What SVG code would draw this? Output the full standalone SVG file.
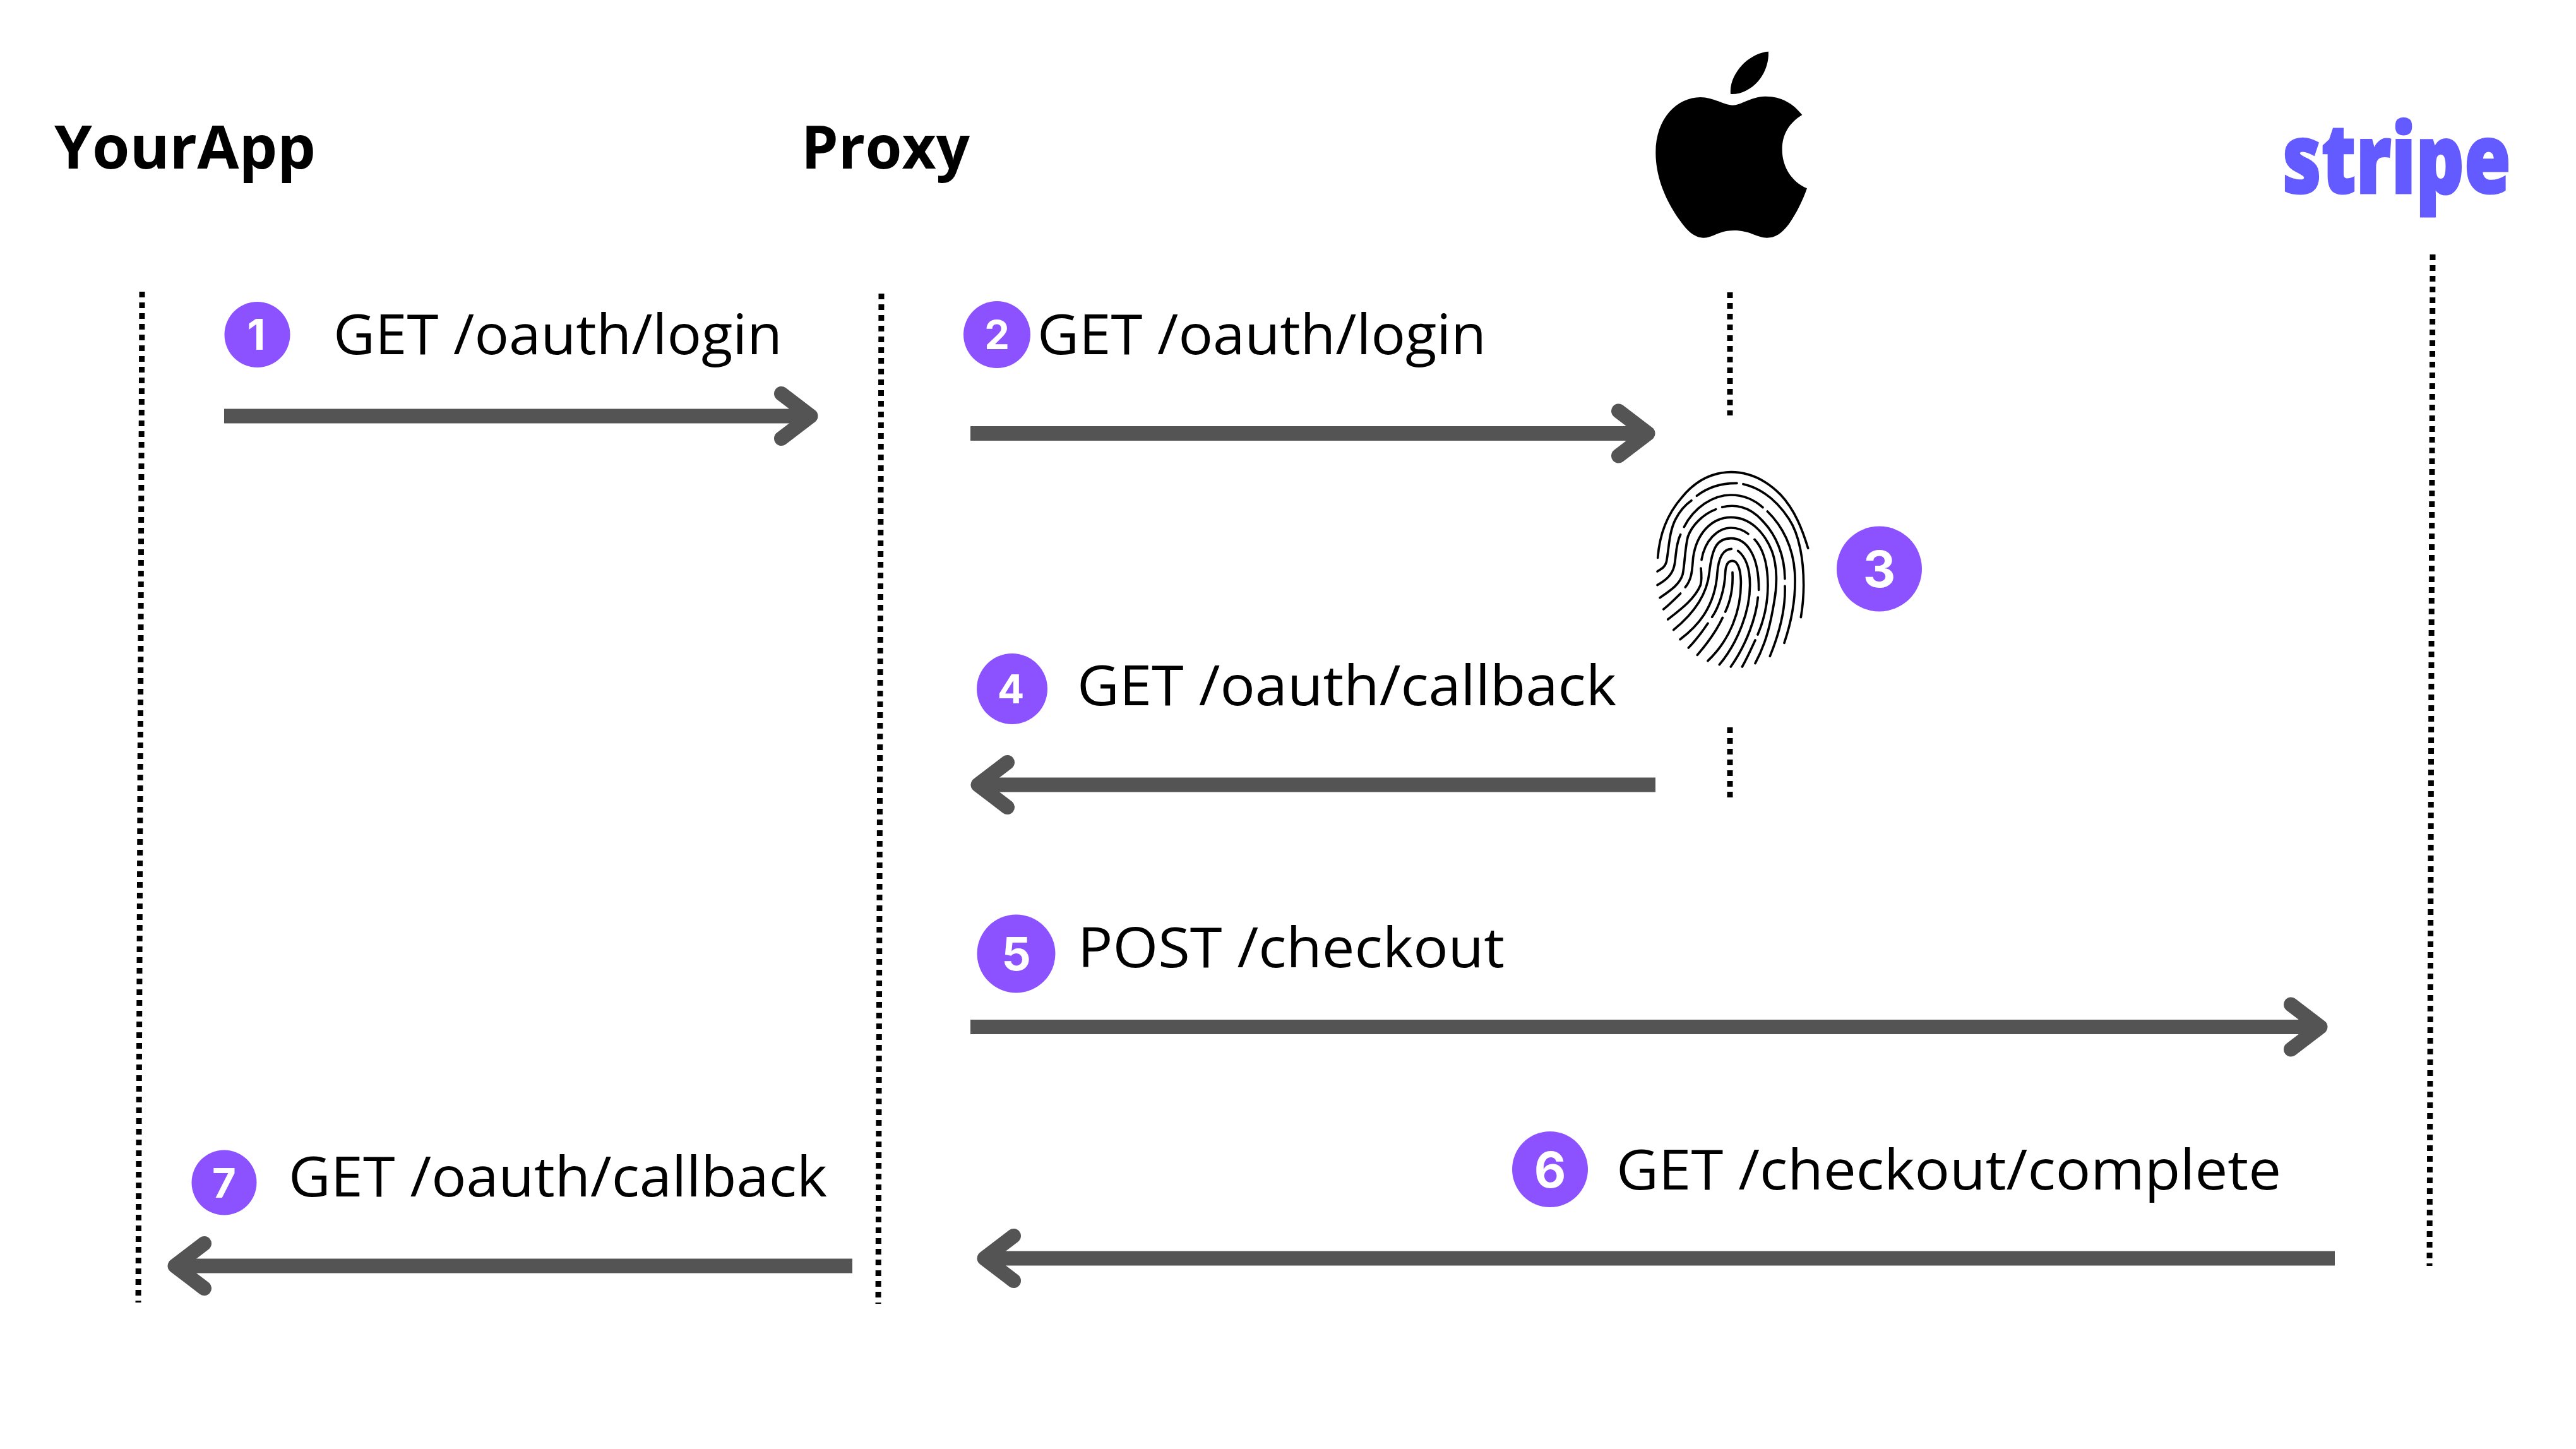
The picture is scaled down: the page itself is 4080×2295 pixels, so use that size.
<svg xmlns="http://www.w3.org/2000/svg" width="4080" height="2295" viewBox="0 0 4080 2295">
<style>
.title{font-family:"Open Sans","Liberation Sans",sans-serif;font-weight:700;font-size:95px;fill:#000}
.label{font-family:"Open Sans","Liberation Sans",sans-serif;font-weight:400;font-size:87px;fill:#000}
.num{font-family:Inter,"Liberation Sans",sans-serif;font-weight:700;fill:#fff;text-anchor:middle}
.badge{fill:#8c52ff}
.arrow{fill:none;stroke:#545454;stroke-width:23;marker-end:url(#head)}
.life{fill:none;stroke:#000;stroke-width:9;stroke-dasharray:9 8}
.ridge{fill:none;stroke:#000;stroke-width:11;stroke-linecap:round;stroke-linejoin:round}
</style>
<defs>
<marker id="head" markerUnits="userSpaceOnUse" viewBox="-75 -50 80 100" markerWidth="80" markerHeight="100" refX="-30" refY="0" orient="auto">
<path d="M-58.5,-35.5L-12,0L-58.5,35.5" fill="none" stroke="#545454" stroke-width="23" stroke-linecap="round" stroke-linejoin="round"/>
</marker>
</defs>
<rect width="4080" height="2295" fill="#fff"/>
<g id="connectors">
<path class="life" d="M225,462L219,2063"/>
<path class="life" d="M1396,465L1391,2065"/>
<path class="life" d="M2740,463V658"/>
<path class="life" d="M2740,1152V1263"/>
<path class="life" d="M3853,403L3848,2005"/>
<path class="arrow" d="M355,659H1266"/>
<path class="arrow" d="M1537,686.5H2592"/>
<path class="arrow" d="M2622,1243H1567"/>
<path class="arrow" d="M1537,1626.5H3657"/>
<path class="arrow" d="M3698,1993H1577"/>
<path class="arrow" d="M1350,2005H295"/>
</g>
<g id="yourapp"><text class="title" x="86" y="267" textLength="414" lengthAdjust="spacingAndGlyphs">YourApp</text></g>
<g id="proxy"><text class="title" x="1269" y="267" textLength="267" lengthAdjust="spacingAndGlyphs">Proxy</text></g>
<g id="apple" transform="translate(2500,40) scale(0.33333)">
<path d="M733,380C770,380 820,340 885,338C960,336 1020,370 1063,426C1000,465 968,520 968,590C968,675 1015,745 1086,775C1065,835 1035,895 1000,945C965,990 935,1010 895,1010C850,1010 815,975 740,975C665,975 640,1010 595,1010C550,1010 515,975 480,925C420,840 367,730 367,605C367,440 470,342 580,342C640,342 695,380 733,380Z"/>
<path d="M903,125C905,180 885,230 853,267C820,305 770,330 723,327C718,275 745,225 775,192C808,155 860,127 903,125Z"/>
</g>
<g id="stripe"><text transform="translate(3615,306) scale(0.785,1)" font-family="Open Sans, Liberation Sans, sans-serif" font-weight="800" font-size="152" fill="#635bff" stroke="#635bff" stroke-width="3">stripe</text></g>
<g id="fingerprint" transform="translate(2580,700) scale(0.33333)" class="ridge">
<path d="M137,550C145,440 185,340 250,265C310,190 390,145 485,143C580,143 660,190 720,250C790,325 825,420 851,505"/>
<path d="M135,615C160,600 172,592 178,570C190,510 190,430 220,370C240,330 265,300 297,278"/>
<path d="M322,256C375,215 440,195 513,196"/>
<path d="M543,200C630,220 700,275 760,365C810,440 830,560 830,680C830,730 825,785 817,833"/>
<path d="M135,680C170,660 205,635 215,590C225,550 220,490 245,440"/>
<path d="M262,404C310,310 400,252 485,252C540,252 590,270 636,311"/>
<path d="M147,740C190,710 240,680 255,630C265,590 265,510 280,450C300,395 350,345 413,320"/>
<path d="M443,310C500,295 570,305 630,370C700,440 740,540 741,650"/>
<path d="M658,330C730,400 780,500 788,620C795,740 770,860 738,955"/>
<path d="M164,795C190,775 220,745 245,720"/>
<path d="M185,843C240,800 310,750 340,680C347,655 345,630 342,600"/>
<path d="M268,690C300,650 300,610 305,550C320,440 390,358 485,358C570,358 640,420 680,520C705,590 705,680 690,760C675,850 655,950 600,1052"/>
<path d="M345,560C360,470 420,408 485,408C515,408 545,420 567,437"/>
<path d="M597,463C640,510 660,590 660,680C660,770 640,850 612,915"/>
<path d="M741,685C745,800 710,920 670,1018"/>
<path d="M613,738C605,830 560,960 484,1068"/>
<path d="M600,942C580,985 560,1030 538,1068"/>
<path d="M212,893C290,830 370,740 382,620C395,500 420,458 485,458C560,458 618,540 617,703"/>
<path d="M243,938C320,880 410,790 420,620C425,560 440,510 487,508"/>
<path d="M518,517C560,550 575,610 575,680C575,800 520,950 430,1058"/>
<path d="M395,832C430,780 455,700 458,620C460,580 475,565 492,565C515,565 530,600 532,660C535,800 480,940 375,1040"/>
<path d="M492,620C495,680 485,750 458,807"/>
<path d="M283,978C315,945 350,900 375,862"/>
<path d="M325,1012C370,960 420,890 445,835"/>
</g>
<g id="step1"><circle class="badge" cx="407.500" cy="530" r="52"/><text class="num" x="406" y="554" font-size="67">1</text><text class="label" x="528" y="561" textLength="711" lengthAdjust="spacingAndGlyphs">GET /oauth/login</text></g>
<g id="step2"><circle class="badge" cx="1579" cy="530" r="53"/><text class="num" x="1579" y="553" font-size="63">2</text><text class="label" x="1643" y="561" textLength="711" lengthAdjust="spacingAndGlyphs">GET /oauth/login</text></g>
<g id="step3"><circle class="badge" cx="2976.500" cy="901" r="67.500"/><text class="num" x="2976.500" y="930" font-size="80">3</text></g>
<g id="step4"><circle class="badge" cx="1603" cy="1091" r="56"/><text class="num" x="1601" y="1114" font-size="63">4</text><text class="label" x="1706" y="1117" textLength="854" lengthAdjust="spacingAndGlyphs">GET /oauth/callback</text></g>
<g id="step5"><circle class="badge" cx="1609.500" cy="1510.500" r="62"/><text class="num" x="1609.500" y="1537" font-size="73">5</text><text class="label" x="1707" y="1532" textLength="676" lengthAdjust="spacingAndGlyphs">POST /checkout</text></g>
<g id="step6"><circle class="badge" cx="2455" cy="1852" r="60"/><text class="num" x="2455" y="1881" font-size="78">6</text><text class="label" x="2560" y="1884" textLength="1053" lengthAdjust="spacingAndGlyphs">GET /checkout/complete</text></g>
<g id="step7"><circle class="badge" cx="355" cy="1873" r="51.500"/><text class="num" x="355" y="1897" font-size="65">7</text><text class="label" x="457" y="1895" textLength="853" lengthAdjust="spacingAndGlyphs">GET /oauth/callback</text></g>
</svg>
